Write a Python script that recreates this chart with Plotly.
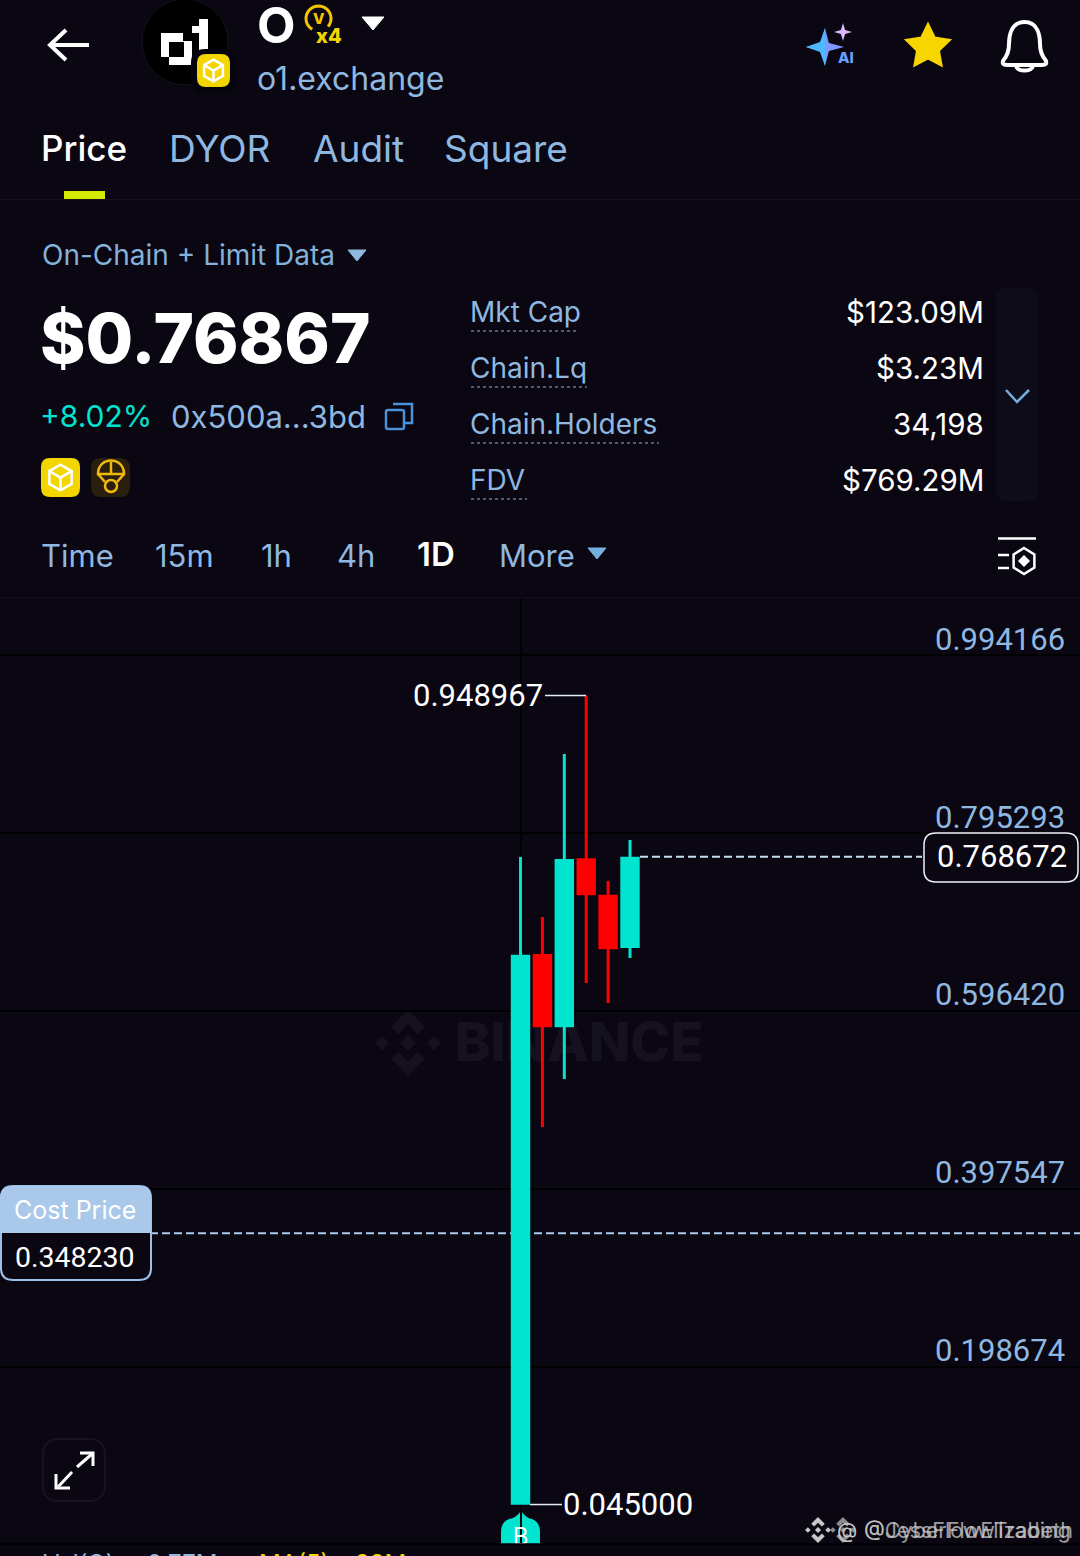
import math
import plotly.graph_objects as go

# chart values
candle_idx = [0, 1, 2, 3, 4, 5]
opens = [0.0465, 0.6585, 0.5800, 0.7655, 0.7245, 0.6685]
highs = [0.7685, 0.7014, 0.8836, 0.948967, 0.7417, 0.7875]
lows = [0.0450, 0.4668, 0.5204, 0.6277, 0.6053, 0.6556]
closes = [0.6575, 0.5800, 0.7645, 0.7275, 0.6670, 0.7670]

tick_vals = [0.994166, 0.795293, 0.596420, 0.397547, 0.198674]
tick_labels = ['0.994166', '0.795293', '0.596420', '0.397547', '0.198674']
last_price = 0.768672
cost_price = 0.348230
max_price = 0.948967
min_price = 0.045000

stat_names = ['Mkt Cap', 'Chain.Lq', 'Chain.Holders', 'FDV']
stat_values = ['$123.09M', '$3.23M', '34,198', '$769.29M']
tab_names = ['Price', 'DYOR', 'Audit', 'Square']
time_names = ['Time', '15m', '1h', '4h', '1D', 'More']

BG = '#0a0612'
BLUE = '#8fb8e0'
TEAL = '#00e4d0'
RED = '#ff0000'
YEL = '#f3d500'
FONT = 'Inter'
NUM_FONT = 'Roboto'  # even digit widths, like the price labels in the app

shapes = []
notes = []


def txt(x, y, s, size, color='#ffffff', anchor='left', weight=400, yanchor='middle', family=FONT):
    notes.append(dict(x=x, y=y, text=s, xref='x', yref='y', showarrow=False, xanchor=anchor,
                      yanchor=yanchor, borderpad=0, font=dict(family=family, size=size, color=color, weight=weight)))


def path(d, fill=None, line=None, width=0, layer='above', dash=None):
    shapes.append(dict(type='path', path=d, xref='x', yref='y', layer=layer,
                       fillcolor=fill or 'rgba(0,0,0,0)',
                       line=dict(color=line or 'rgba(0,0,0,0)', width=width, dash=dash or 'solid')))


def poly(pts, close=True):
    return 'M ' + ' L '.join(f'{x:.2f} {y:.2f}' for x, y in pts) + (' Z' if close else '')


def rrect(x0, y0, x1, y1, r):
    return (f'M {x0+r} {y0} L {x1-r} {y0} Q {x1} {y0} {x1} {y0+r} L {x1} {y1-r} Q {x1} {y1} {x1-r} {y1} '
            f'L {x0+r} {y1} Q {x0} {y1} {x0} {y1-r} L {x0} {y0+r} Q {x0} {y0} {x0+r} {y0} Z')


def circle(cx, cy, r, fill=None, line=None, width=0):
    shapes.append(dict(type='circle', xref='x', yref='y', x0=cx-r, x1=cx+r, y0=cy-r, y1=cy+r,
                       fillcolor=fill or 'rgba(0,0,0,0)', line=dict(color=line or 'rgba(0,0,0,0)', width=width)))


def hline(x0, x1, y, color, width=1, dash='solid', layer='above', yref='y'):
    shapes.append(dict(type='line', xref='x', yref=yref, x0=x0, x1=x1, y0=y, y1=y, layer=layer,
                       line=dict(color=color, width=width, dash=dash)))


def star(cx, cy, r_out, r_in, n=4, rot=-90):
    pts = []
    for i in range(2 * n):
        a = math.radians(rot + i * 180 / n)
        r = r_out if i % 2 == 0 else r_in
        pts.append((cx + r * math.cos(a), cy + r * math.sin(a)))
    return poly(pts)


def arc(cx, cy, r, a0, a1, steps=30):
    return poly([(cx + r * math.cos(math.radians(a0 + (a1 - a0) * i / steps)),
                  cy + r * math.sin(math.radians(a0 + (a1 - a0) * i / steps))) for i in range(steps + 1)], close=False)


def bn_logo(cx, cy, R, color, layer='above'):
    top = [(0, -1), (.52, -.48), (.3, -.26), (0, -.56), (-.3, -.26), (-.52, -.48)]
    for sign in (1, -1):
        path(poly([(cx + sign * a * R, cy + sign * b * R) for a, b in top]), fill=color, layer=layer)
    for dx, h in ((-.78, .22), (.78, .22), (0, .24)):
        path(poly([(cx + dx * R, cy - h * R), (cx + (dx + h) * R, cy), (cx + dx * R, cy + h * R),
                   (cx + (dx - h) * R, cy)]), fill=color, layer=layer)


def bnb_badge(x0, y0, x1, y1):
    path(rrect(x0, y0, x1, y1, 9), fill=YEL)
    cx, cy = (x0 + x1) / 2, (y0 + y1) / 2
    r = (x1 - x0) * .33
    hexa = [(cx + r * math.cos(math.radians(30 + 60 * i)), cy + r * math.sin(math.radians(30 + 60 * i))) for i in range(6)]
    path(poly(hexa), line='#ffffff', width=2.5)
    path(poly([(cx - r * .87, cy - r * .5), (cx, cy), (cx + r * .87, cy - r * .5)], close=False), line='#ffffff', width=2.5)
    path(poly([(cx, cy), (cx, cy + r)], close=False), line='#ffffff', width=2.5)


# header
path(poly([(89, 45), (51, 45)], close=False), line='#ffffff', width=4)
path(poly([(66, 30), (50, 45), (66, 60)], close=False), line='#ffffff', width=4)
circle(185, 42, 43, fill='#000000', line='#15121f', width=1)
path(poly([(161, 33), (183, 33), (183, 41), (192, 41), (192, 65), (169, 65), (169, 57), (161, 57)]), fill='#ffffff')
path(poly([(169, 42), (184, 42), (184, 57), (169, 57)]), fill='#000000')
path(poly([(199, 19), (208, 19), (208, 50), (199, 50), (199, 33), (192, 33), (192, 26), (199, 26)]), fill='#ffffff')
path(rrect(191, 49, 236, 94, 14), fill='#06040c')
bnb_badge(197, 54, 230, 87)
txt(276, 25, 'O', 50, weight=700, anchor='center')
path(arc(318.5, 18.5, 12.5, 120, 400), line='#f5c400', width=3)
txt(318.5, 18, 'V', 15, color='#f5c400', weight=800, anchor='center')
txt(329, 36, 'x4', 20, color=YEL, weight=800, anchor='center')
path(poly([(362, 17), (384, 17), (373, 30)]), fill='#ffffff', line='#ffffff', width=1)
txt(256, 78, 'o1.exchange', 32, color=BLUE)

path(star(825, 47, 19, 5.5), fill='#7f98ff')
path(poly([(825, 28), (825, 66), (820, 52), (806, 47), (820, 42)]), fill='#4fb9ff')
path(star(843, 32, 9, 3), fill='#dcb9ff')
txt(846, 57, 'AI', 15, color='#6aa0ff', weight=800, anchor='center')
path(star(928, 47, 22, 11, n=5), fill='#f7d600', line='#f7d600', width=3)
path('M 1024.5 22 C 1011 22 1009 36 1009 44 C 1009 52 1007 56 1003.5 60 Q 1001 65 1007 65 L 1042 65 '
     'Q 1048 65 1045.5 60 C 1042 56 1040 52 1040 44 C 1040 36 1038 22 1024.5 22 Z', line='#ffffff', width=4)
path('M 1016 66 C 1017 72 1032 72 1033 66', line='#ffffff', width=4)

for name, x, col, w, sz in zip(tab_names, [40, 168, 312, 443], ['#ffffff', BLUE, BLUE, BLUE], [500, 400, 400, 400],
                               [35, 37, 37, 37]):
    txt(x, 148, name, sz, color=col, weight=w)
path(poly([(64, 191), (105, 191), (105, 199), (64, 199)]), fill='#d6ea00')
hline(0, 1080, 199.5, '#15111e', 1)

# token summary
txt(41, 255, 'On-Chain + Limit Data', 28, color='#83b1da')
path(poly([(348, 250), (366, 250), (357, 261)]), fill=BLUE, line=BLUE, width=1)
txt(39, 338, '$0.76867', 69, weight=800)
txt(39, 416, '+8.02%', 30, color=TEAL)
txt(170, 416, '0x500a...3bd', 31, color=BLUE)
path(rrect(386, 410, 404, 429, 2), line='#4a93db', width=2.5)
path(poly([(393, 404), (412, 404), (412, 423), (405, 423)], close=False), line='#4a93db', width=2.5)
bnb_badge(41, 458, 80, 497)
path(rrect(91, 458, 130, 497, 10), fill='#2a1f0c')
path('M 98 474 C 98 456 124 456 124 474 Z', line='#f0b90b', width=2.5)
path(poly([(111, 462), (111, 475)], close=False), line='#f0b90b', width=2.5)
path(poly([(98, 474), (105, 482)], close=False), line='#f0b90b', width=2.5)
path(poly([(124, 474), (117, 482)], close=False), line='#f0b90b', width=2.5)
circle(111, 486, 6, line='#f0b90b', width=2.5)

for i, (name, val) in enumerate(zip(stat_names, stat_values)):
    y = 312 + i * 56
    txt(469, y, name, 28, color=BLUE)
    txt(985, y, val, 29.5, anchor='right')
for y, x1 in zip([331, 387, 443, 499], [578, 587, 659, 527]):
    hline(471, x1, y, BLUE, 1, dash='dot')
path(rrect(996, 288, 1039, 501, 10), fill='#0f0c1a')
path(poly([(1006, 390), (1017, 402), (1029, 390)], close=False), line='#76aee0', width=2.5)

for name, x in zip(time_names, [40, 154, 260, 336, 416, 498]):
    if name == '1D':
        txt(x, 554, name, 33, weight=600)
    else:
        txt(x, 555, name, 31, color=BLUE)
path(poly([(588, 548), (606, 548), (597, 559)]), fill='#76aee0', line='#76aee0', width=1)
hline(998, 1036, 538.5, '#ffffff', 2.5)
hline(998, 1009, 555, '#ffffff', 2.5)
hline(998, 1009, 568, '#ffffff', 2.5)
path(poly([(1024 + 12 * math.sin(math.radians(60 * i)), 561 - 13 * math.cos(math.radians(60 * i))) for i in range(6)]),
     line='#ffffff', width=2.5)
path(poly([(1024, 555), (1030, 561), (1024, 567), (1018, 561)]), fill='#ffffff')
hline(0, 1080, 598, '#120e1b', 1)

# chart decorations
bn_logo(408, 1043, 33, '#15111f', layer='below')
hline(150, 1080, cost_price, '#a9cdee', 2, dash='8px,4px', layer='below', yref='y2')
hline(640, 922, last_price, '#c6def2', 2, dash='8px,4px', layer='below', yref='y2')
hline(545, 586, max_price, '#e4ecf5', 1.5, yref='y2')
hline(530, 562, min_price, '#e4ecf5', 1.5, yref='y2')
hline(0, 1080, 1544, '#000000', 1.5)

for val, lab in zip(tick_vals, tick_labels):
    notes.append(dict(x=1067, y=val, text=lab, xref='x', yref='y2', showarrow=False, xanchor='right',
                      yanchor='middle', yshift=16, font=dict(family=NUM_FONT, size=31, color=BLUE)))
notes.append(dict(x=545, y=max_price, text=f'{max_price:.6f}', xref='x', yref='y2', showarrow=False, xanchor='right',
                  yanchor='middle', font=dict(family=NUM_FONT, size=31, color='#ffffff')))
notes.append(dict(x=561, y=min_price, text=f'{min_price:.6f}', xref='x', yref='y2', showarrow=False, xanchor='left',
                  yanchor='middle', font=dict(family=NUM_FONT, size=31, color='#ffffff')))

path(rrect(924, 833, 1078, 882, 12), fill=BG, line='#f0f4fa', width=1.5)
notes.append(dict(x=1002, y=last_price, text=f'{last_price:.6f}', xref='x', yref='y2', showarrow=False, xanchor='center',
                  yanchor='middle', font=dict(family=NUM_FONT, size=31, color='#ffffff')))

path(rrect(1, 1186, 151, 1280, 12), fill=BG, line='#9cc0e8', width=2)
path('M 0 1233 L 0 1198 Q 0 1186 13 1186 L 139 1186 Q 151 1186 151 1198 L 151 1233 Z', fill='#a9c8ea')
txt(75, 1210, 'Cost Price', 25, anchor='center')
txt(75, 1257, f'{cost_price:.6f}', 28.5, anchor='center', family=NUM_FONT)

path(rrect(43, 1439, 105, 1501, 16), line='#16121f', width=2)
path(poly([(77, 1467), (92, 1454)], close=False), line='#ffffff', width=3)
path(poly([(80, 1453), (93, 1453), (93, 1466)], close=False), line='#ffffff', width=3)
path(poly([(58, 1487), (72, 1472)], close=False), line='#ffffff', width=3)
path(poly([(56, 1474), (56, 1488), (70, 1488)], close=False), line='#ffffff', width=3)

path('M 521 1511 Q 526 1518 532 1519 Q 540 1522 540 1532 L 540 1544 L 501 1544 L 501 1532 Q 501 1522 509 1519 '
     'Q 516 1518 521 1511 Z', fill=TEAL, layer='below')
txt(42, 1548, 'Vol(O):', 24, color=BLUE, yanchor='top')
txt(146, 1548, '0.77M', 24, color=BLUE, yanchor='top')
txt(258, 1548, 'MA(5):', 24, color=YEL, yanchor='top')
txt(354, 1548, '23M', 24, color=YEL, yanchor='top')

# repost watermarks, two of them lie on top of each other
bn_logo(818, 1530, 13, '#c8c8c8')
bn_logo(843, 1530, 13, '#8c8c8c')
txt(836, 1530, '@', 21, color='#c8c8c8')
txt(863, 1530, '@CyberFlowTrading', 21.5, color='rgba(205,205,205,0.75)')
txt(863, 1530, '@JessFlowElizabeth', 21.5, color='rgba(205,205,205,0.75)')

fig = go.Figure()
# pixel canvas underneath, the candle subplot is stacked on it so candles cover the watermark
fig.add_trace(go.Scatter(x=[579], y=[1047], mode='text', text=['BINANCE'], hoverinfo='skip', xaxis='x', yaxis='y',
                         textfont=dict(family=FONT, size=54, color='#15111f', weight=800)))
fig.add_trace(go.Candlestick(x=candle_idx, open=opens, high=highs, low=lows, close=closes, xaxis='x2', yaxis='y2',
                             whiskerwidth=0,
                             increasing=dict(line=dict(color=TEAL, width=3), fillcolor=TEAL),
                             decreasing=dict(line=dict(color=RED, width=3), fillcolor=RED)))
fig.add_trace(go.Scatter(x=[candle_idx[0]], y=[0.0065], mode='text', text=['B'], hoverinfo='skip', xaxis='x2', yaxis='y2',
                         textfont=dict(family=FONT, size=24, color='#ffffff')))

fig.update_layout(
    width=1080, height=1556, margin=dict(l=0, r=0, t=0, b=0), showlegend=False,
    paper_bgcolor=BG, plot_bgcolor='rgba(0,0,0,0)', boxgap=0.25, boxgroupgap=0,
    xaxis=dict(range=[0, 1080], domain=[0, 1], visible=False, fixedrange=True),
    yaxis=dict(range=[1556, 0], domain=[0, 1], visible=False, fixedrange=True),
    xaxis2=dict(range=[-23.77, 25.55], domain=[0, 1], anchor='y2', showticklabels=False, ticks='',
                rangeslider=dict(visible=False), zeroline=False, showline=False, showgrid=True,
                gridcolor='#000000', gridwidth=1.5, tickmode='array', tickvals=[candle_idx[0]], fixedrange=True),
    yaxis2=dict(range=[0.00089, 1.05786], domain=[1 - 1544 / 1556, 1 - 598 / 1556], anchor='x2',
                tickmode='array', tickvals=tick_vals, showticklabels=False, ticks='', zeroline=False, showline=False,
                showgrid=True, gridcolor='#000000', gridwidth=2, fixedrange=True),
    shapes=shapes, annotations=notes,
)

fig.write_html("out.html", config=dict(displayModeBar=False),
               post_script="document.body.style.margin='0';document.body.style.background='#0a0612';")
